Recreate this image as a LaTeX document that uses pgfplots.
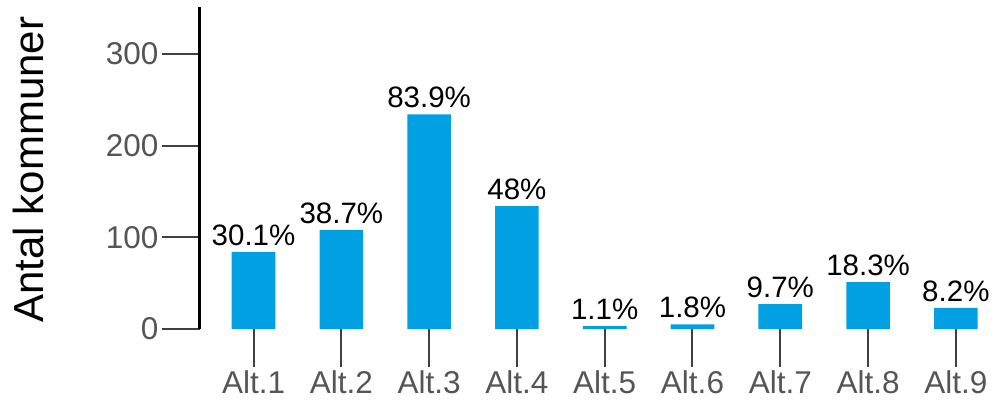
\documentclass[border=0pt]{standalone}
\usepackage{pgfplots}
\pgfplotsset{compat=1.18}
\usepackage{fontspec}
\setmainfont{Liberation Sans}
\definecolor{barblue}{RGB}{0,160,227}
\definecolor{tickgray}{RGB}{64,64,64}
\definecolor{labgray}{RGB}{85,85,85}
\begin{document}
\begin{tikzpicture}
\begin{axis}[
  at={(0,0)}, anchor=south west,
  scale only axis,
  width=798bp, height=322bp,
  xmin=0.39, xmax=9.48, ymin=0, ymax=351,
  axis x line*=bottom, axis y line*=left,
  x axis line style={draw=none},
  y axis line style={black, line width=3bp},
  ybar, bar width=43.6bp,
  xtick={1,2,3,4,5,6,7,8,9},
  xticklabels={Alt.1,Alt.2,Alt.3,Alt.4,Alt.5,Alt.6,Alt.7,Alt.8,Alt.9},
  ytick={0,100,200,300},
  tick align=outside,
  major tick length=38bp,
  tick style={tickgray, line width=2bp},
  ticklabel style={font=\fontsize{31.5bp}{36bp}\selectfont, text=labgray},
  /pgf/number format/assume math mode=true,
  ylabel={Antal kommuner},
  every axis y label/.style={at={([xshift=-172bp]rel axis cs:0,0.4953)}, rotate=90, anchor=center, font=\fontsize{42bp}{48bp}\selectfont},
  point meta=explicit symbolic,
  nodes near coords,
  every node near coord/.append style={font=\fontsize{29.5bp}{34bp}\selectfont, text=black, inner ysep=0pt, yshift=6bp},
]
\addplot[fill=barblue, draw=none] coordinates {
  (1,84) [30.1\%]
  (2,108) [38.7\%]
  (3,234) [83.9\%]
  (4,134) [48\%]
  (5,3) [1.1\%]
  (6,5) [1.8\%]
  (7,27) [9.7\%]
  (8,51) [18.3\%]
  (9,23) [8.2\%]
};
\end{axis}
\pgfresetboundingbox
\path (-200bp,-76bp) rectangle (798bp,329bp);
\end{tikzpicture}
\end{document}
